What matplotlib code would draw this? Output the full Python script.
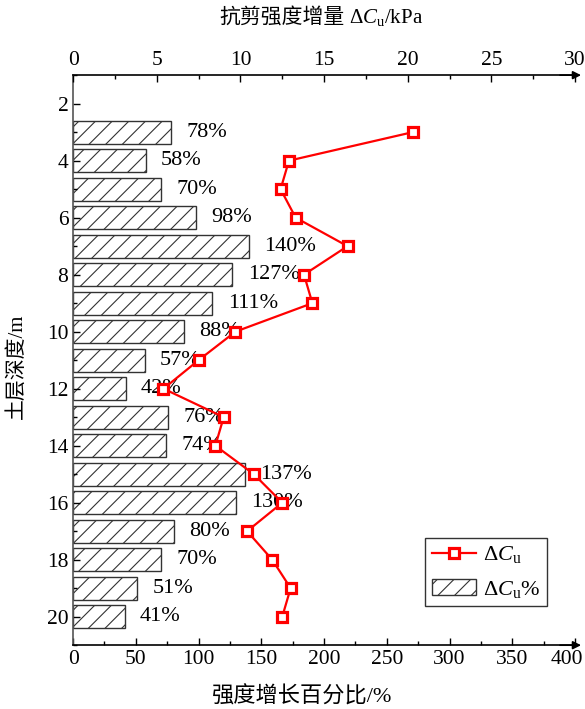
import matplotlib.pyplot as plt
from matplotlib.ticker import MultipleLocator, FuncFormatter

plt.rcParams['font.family'] = ['Liberation Serif', 'Noto Sans CJK SC']
plt.rcParams['mathtext.fontset'] = 'custom'
plt.rcParams['mathtext.rm'] = 'Liberation Serif'
plt.rcParams['mathtext.it'] = 'Liberation Serif:italic'
plt.rcParams['hatch.linewidth'] = 0.8

# 深度 (m)
depth = [3, 4, 5, 6, 7, 8, 9, 10, 11, 12, 13, 14, 15, 16, 17, 18, 19, 20]
# 强度增长百分比 (%)
pct = [78, 58, 70, 98, 140, 127, 111, 88, 57, 42, 76, 74, 137, 130, 80, 70, 51, 41]
# 抗剪强度增量 ΔCu (kPa)
dcu = [20.3, 12.9, 12.4, 13.3, 16.4, 13.8, 14.3, 9.7, 7.5, 5.4,
       9.0, 8.5, 10.8, 12.5, 10.4, 11.9, 13.0, 12.5]

fig = plt.figure(figsize=(5.85, 7.09), dpi=100)
ax = fig.add_axes([0.125, 0.09, 0.858, 0.804])

bars = ax.barh(depth, pct, height=0.8, color='white', edgecolor='#333333',
               linewidth=1.0, hatch='//')
for d, p in zip(depth, pct):
    ax.annotate(f'{p}%', xy=(p, d), xytext=(11, 0), textcoords='offset points',
                va='center', ha='left', fontsize=16)

ax.set_xlim(0, 400)
ax.set_ylim(21, 1)
ax.xaxis.set_major_locator(MultipleLocator(50))
ax.xaxis.set_minor_locator(MultipleLocator(25))
ax.yaxis.set_major_locator(MultipleLocator(2))
ax.yaxis.set_minor_locator(MultipleLocator(1))
# 400 单独标注，稍向左移
ax.xaxis.set_major_formatter(FuncFormatter(lambda v, pos: '' if v >= 400 else f'{v:g}'))
ax.annotate('400', xy=(1, 0), xycoords='axes fraction', xytext=(-6, -3.6),
            textcoords='offset points', ha='center', va='top', fontsize=15.5)
ax.set_xlabel('强度增长百分比/%', fontsize=16)
ax.xaxis.set_label_coords(0.456, -0.072)
ax.set_ylabel('土层深度/m', fontsize=15)
ax.yaxis.set_label_coords(-0.092, 0.49)

ax2 = ax.twiny()
line, = ax2.plot(dcu, depth, color='red', lw=1.6, marker='s', ms=6.5,
                 mfc='white', mec='red', mew=2.3)
ax2.set_xlim(0, 30)
ax2.xaxis.set_major_locator(MultipleLocator(5))
ax2.xaxis.set_minor_locator(MultipleLocator(2.5))

# 顶部轴标题：中文与公式分开绘制
fig.text(345 / 585, 1 - 18 / 709, '抗剪强度增量', fontsize=15,
         ha='right', va='center')
fig.text(349 / 585, 1 - 18 / 709, r'$\Delta C_\mathrm{u}$/kPa', fontsize=15,
         ha='left', va='center')

for a in (ax, ax2):
    a.spines['right'].set_visible(False)
    for s in a.spines.values():
        s.set_linewidth(1.2)
    a.tick_params(which='major', direction='in', length=5, width=1.0, labelsize=15.5)
    a.tick_params(which='minor', direction='in', length=3, width=1.0)
ax.spines['top'].set_visible(False)
ax2.spines['left'].set_visible(False)
ax2.spines['bottom'].set_visible(False)
ax.spines['left'].set_color('#555555')

# 坐标轴末端箭头
for yy in (0, 1):
    ax.annotate('', xy=(1.012, yy), xytext=(0.97, yy), xycoords='axes fraction',
                arrowprops=dict(arrowstyle='-|>', color='black', lw=1.2,
                                mutation_scale=12, shrinkA=0, shrinkB=0))

leg = ax.legend([line, bars], [r'$\Delta C_\mathrm{u}$', r'$\Delta C_\mathrm{u}$%'],
                loc='lower right', bbox_to_anchor=(0.944, 0.068), borderaxespad=0,
                fontsize=16, frameon=True, fancybox=False, edgecolor='black',
                handlelength=2.0, handletextpad=0.3, borderpad=0.3, labelspacing=0.6)
leg.get_frame().set_linewidth(1.0)

fig.savefig('out.png', dpi=100)
